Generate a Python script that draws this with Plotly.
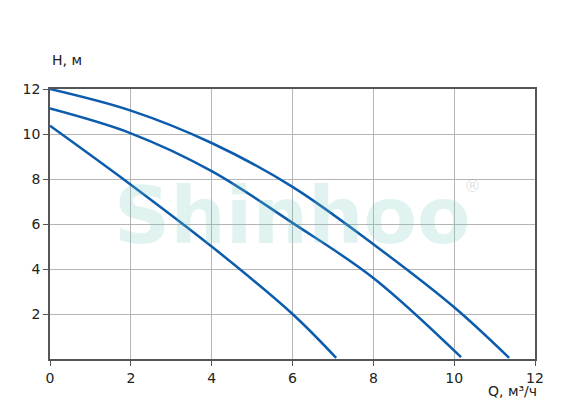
import plotly.graph_objs as go

# pump head curves
q_top = [0, 2, 4, 6, 8, 10, 11.36]
h_top = [12.0, 11.04, 9.6, 7.65, 5.1, 2.3, 0.05]

q_mid = [0, 2, 4, 6, 8, 10.17]
h_mid = [11.13, 10.03, 8.35, 6.05, 3.6, 0.08]

q_low = [0, 2, 4, 6, 7.08]
h_low = [10.37, 7.75, 5.0, 2.0, 0.05]

x_ticks = [0, 2, 4, 6, 8, 10, 12]
y_ticks = [2, 4, 6, 8, 10, 12]

line_color = "#0b5cad"

fig = go.Figure()
for q, h in [(q_top, h_top), (q_mid, h_mid), (q_low, h_low)]:
    fig.add_trace(go.Scatter(x=q, y=h, mode="lines", line=dict(color=line_color, width=2.5, shape="spline"),
                             showlegend=False, hoverinfo="x+y"))

axis_style = dict(showline=True, linecolor="#555555", linewidth=1.5, mirror=True,
                  showgrid=True, gridcolor="#b5b5b5", gridwidth=1, zeroline=False,
                  ticks="outside", ticklen=5, tickcolor="#555555",
                  tickfont=dict(family="DejaVu Sans", size=14, color="#222222"))

# page body adds 8px, so the figure is a bit smaller than the window
fig.update_layout(
    width=579, height=404,
    margin=dict(l=42, r=52, t=81, b=53),
    plot_bgcolor="white", paper_bgcolor="white",
    xaxis=dict(range=[0, 12], tickvals=x_ticks, **axis_style),
    yaxis=dict(range=[0, 12], tickvals=y_ticks, **axis_style),
    font=dict(family="DejaVu Sans", size=14, color="#222222"),
)

# watermark
fig.add_annotation(text="<b>Shinhoo</b>", xref="paper", yref="paper", x=0.5, y=0.53,
                   xanchor="center", yanchor="middle", showarrow=False,
                   font=dict(family="DejaVu Sans", size=78, color="rgba(120,200,185,0.22)"))
fig.add_annotation(text="®", xref="paper", yref="paper", x=0.872, y=0.64,
                   xanchor="center", yanchor="middle", showarrow=False,
                   font=dict(family="DejaVu Sans", size=17, color="rgba(150,150,150,0.3)"))

# axis titles
fig.add_annotation(text="H, м", xref="paper", yref="paper", x=0.0, y=1.107,
                   xanchor="left", yanchor="middle", showarrow=False,
                   font=dict(family="DejaVu Sans", size=14, color="#222222"))
fig.add_annotation(text="Q, м³/ч", xref="paper", yref="paper", x=0.953, y=-0.117,
                   xanchor="center", yanchor="middle", showarrow=False,
                   font=dict(family="DejaVu Sans", size=14, color="#222222"))

fig.write_html("out.html")
